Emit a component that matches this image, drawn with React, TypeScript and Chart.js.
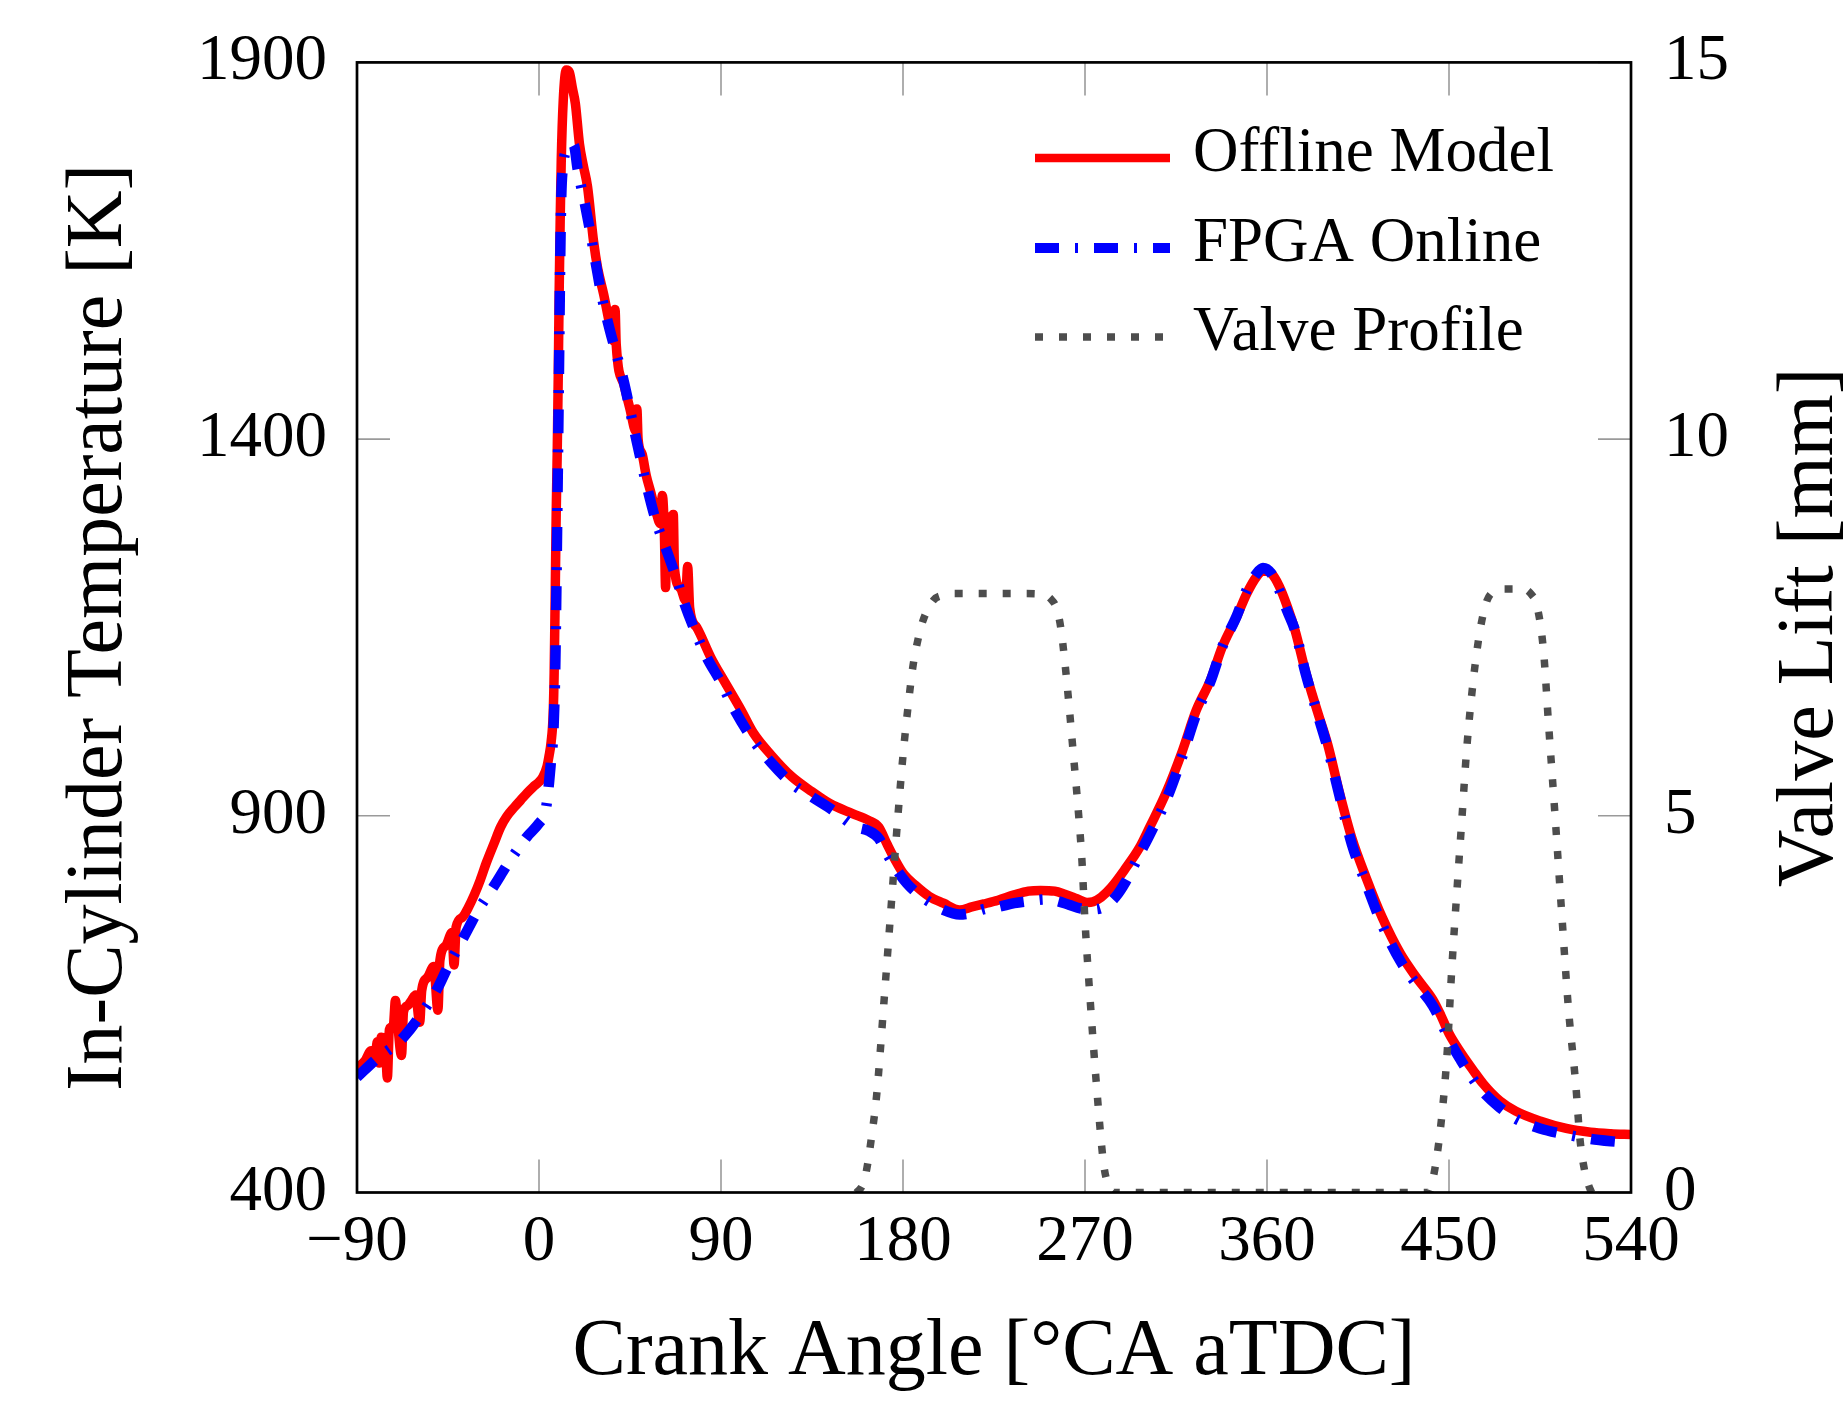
import React, { useEffect, useRef } from "react";
import { Chart, registerables } from "chart.js";

Chart.register(...registerables);

const W = 1847;
const H = 1401;
const FONT = "'Liberation Serif', 'Times New Roman', serif";

// ---- data: [crank angle (deg CA aTDC), value] ----
const offlineModel: [number, number][] = [
  [-90, 565], [-86, 575], [-83, 588], [-81, 578], [-80, 600], [-79, 572], [-78, 606], [-76, 600],
  [-75, 552], [-74, 616], [-72, 622], [-71, 655], [-70, 628], [-68, 582], [-67, 640], [-65, 648],
  [-63, 655], [-61, 662], [-59, 626], [-58, 668], [-55, 686], [-52, 700], [-50, 642], [-49, 708],
  [-46, 728], [-43, 745], [-42, 702], [-41, 752], [-38, 765], [-35, 778], [-32, 795], [-29, 815],
  [-26, 838], [-22, 865], [-19, 885], [-16, 899], [-12, 912], [-9, 921], [-6, 930], [-3, 938],
  [0, 945], [2, 952], [4, 966], [5, 980], [6, 998], [7, 1035], [7.5, 1090], [8, 1190], [8.5, 1300],
  [9, 1380], [9.5, 1480], [10, 1600], [10.5, 1695], [11, 1770], [12, 1850], [13.5, 1890], [15, 1887],
  [16.5, 1866], [18, 1845], [20, 1792], [22, 1762], [24, 1735], [27, 1662], [29, 1627], [32, 1592],
  [35, 1552], [37, 1530], [37.6, 1572], [38.2, 1525], [42, 1472], [45, 1440], [48, 1410], [48.4, 1440],
  [49, 1400], [51, 1380], [53, 1352], [55, 1332], [58, 1302], [60, 1288], [61, 1325], [62, 1275],
  [62.6, 1203], [63.2, 1297], [64, 1250], [66, 1235], [66.4, 1300], [67, 1228], [70, 1202],
  [72.5, 1186], [73.5, 1231], [74.5, 1176], [78, 1150], [85, 1110], [92, 1077], [100, 1040],
  [106, 1010], [115, 980], [125, 952], [135, 932], [144, 916], [155, 903], [163, 894], [168, 885],
  [172, 863], [176, 842], [180, 824], [186, 808], [193, 793], [200, 784], [208, 775], [214, 779],
  [220, 783], [227, 788], [235, 795], [242, 800], [248, 801], [255, 800], [260, 796], [266, 790],
  [271, 785], [274, 786], [278, 792], [283, 805], [290, 830], [297, 858], [302, 885], [310, 930],
  [318, 985], [325, 1040], [332, 1080], [338, 1125], [345, 1164], [350, 1195], [355, 1218],
  [358, 1225], [362, 1222], [366, 1205], [370, 1178], [374, 1145], [379, 1092], [385, 1038],
  [390, 995], [396, 929], [402, 870], [409, 818], [417, 765], [426, 717], [434, 685], [442, 656],
  [446, 635], [450, 611], [456, 585], [462, 562], [467, 544], [475, 522], [483, 508], [495, 495],
  [508, 485], [520, 480], [530, 478], [540, 477],
];

const fpgaOnline: [number, number][] = [
  [-90, 553], [-80, 578], [-70, 598], [-67, 606], [-60, 630], [-50, 672], [-45, 700], [-37, 740],
  [-30, 775], [-22, 808], [-15, 838], [-6, 872], [0, 890], [3, 904], [4, 920], [5, 945], [6, 975],
  [7, 1005], [7.5, 1040], [8, 1090], [8.5, 1180], [9, 1290], [9.5, 1400], [10, 1520], [10.5, 1640],
  [11, 1720], [12, 1765], [14, 1785], [16, 1792], [17.5, 1788], [19, 1760], [22.7, 1712], [25, 1680],
  [28.5, 1627], [31, 1590], [35, 1545], [41.7, 1479], [47.5, 1407], [54, 1330], [58, 1290],
  [63, 1253], [68, 1215], [72, 1181], [78, 1140], [83, 1110], [90, 1077], [96, 1044], [106, 1000],
  [115, 970], [125, 943], [135, 925], [145, 908], [157, 885], [163, 880], [168, 870], [172, 850],
  [177, 828], [182, 810], [188, 795], [194, 784], [200, 775], [208, 769], [214, 771], [220, 776],
  [227, 779], [235, 784], [243, 787], [250, 789], [256, 787], [262, 782], [268, 777], [275, 776],
  [280, 780], [285, 792], [290, 812], [297, 849], [302, 875], [310, 920], [318, 978], [325, 1035],
  [332, 1078], [338, 1125], [345, 1165], [350, 1200], [355, 1222], [358, 1229], [362, 1222],
  [366, 1200], [370, 1172], [374, 1145], [379, 1090], [385, 1035], [390, 990], [396, 925],
  [402, 862], [409, 810], [417, 755], [426, 707], [434, 676], [442, 648], [446, 627], [450, 603],
  [456, 575], [462, 550], [467, 533], [475, 513], [483, 498], [495, 485], [508, 477], [520, 471],
  [530, 468], [540, 466],
];

const valveProfile: [number, number][] = [
  [157, 0], [160, 0.1], [162, 0.3], [164.5, 0.75], [167, 1.3], [170.5, 2.5], [174, 3.75],
  [177.5, 5.0], [180, 5.8], [182.5, 6.45], [185, 7.0], [187.5, 7.35], [190, 7.6], [195, 7.86],
  [200, 7.93], [205, 7.95], [241, 7.95], [249, 7.94], [253, 7.88], [256, 7.75], [258, 7.5],
  [260, 7.05], [262.4, 6.38], [264.3, 5.8], [266.5, 5.13], [268.5, 4.4], [270, 3.6], [272.6, 2.54],
  [275.9, 1.35], [279.2, 0.38], [281.5, 0.1], [284, 0], [440, 0], [442.3, 0.21], [445.6, 0.81],
  [448.9, 1.78], [451.4, 2.98], [453.9, 4.0], [456.3, 4.93], [458.8, 5.9], [462.1, 6.82],
  [465.4, 7.47], [468.7, 7.85], [472, 7.98], [475, 8.01], [487, 8.01], [491, 7.93], [493.4, 7.8],
  [496.7, 7.2], [499.2, 6.23], [502.5, 4.98], [505.8, 3.68], [509.1, 2.43], [512.6, 1.46],
  [514.8, 0.7], [517, 0.3], [519, 0.1], [520.5, 0],
];

const xTicks = [-90, 0, 90, 180, 270, 360, 450, 540];
const tempTicks = [400, 900, 1400, 1900];
const liftTicks = [0, 5, 10, 15];
const seriesNames = ["Offline Model", "FPGA Online", "Valve Profile"];
const xTitle = "Crank Angle [\u00B0CA aTDC]";
const yTitle = "In-Cylinder Temperature [K]";
const y1Title = "Valve Lift [mm]";

const RED = "#ff0000";
const BLUE = "#0000ff";
const GRAY = "#4d4d4d";
const BLUE_DASH = [24, 16, 3, 16];
const GRAY_DASH = [8, 16];

const toPoints = (arr: [number, number][]) => arr.map(([x, y]) => ({ x, y }));
const fmtTick = (v: any) => {
  const n = Number(v);
  return n < 0 ? "\u2212" + String(Math.abs(n)) : String(n);
};
const zeroPad = (s: any) => {
  s.paddingTop = 0;
  s.paddingBottom = 0;
  s.paddingLeft = 0;
  s.paddingRight = 0;
};

const decor = {
  id: "decor",
  beforeDatasetsDraw(chart: any) {
    const { ctx, chartArea: a, scales } = chart;
    const L = 33;
    ctx.save();
    ctx.strokeStyle = "#9a9a9a";
    ctx.lineWidth = 1.6;
    const seg = (x1: number, y1: number, x2: number, y2: number) => {
      ctx.beginPath();
      ctx.moveTo(x1, y1);
      ctx.lineTo(x2, y2);
      ctx.stroke();
    };
    for (const v of xTicks) {
      const px = scales.x.getPixelForValue(v);
      seg(px, a.bottom, px, a.bottom - L);
      seg(px, a.top, px, a.top + L);
    }
    for (const v of tempTicks) {
      const py = scales.y.getPixelForValue(v);
      seg(a.left, py, a.left + L, py);
    }
    for (const v of liftTicks) {
      const py = scales.y1.getPixelForValue(v);
      seg(a.right, py, a.right - L, py);
    }
    ctx.restore();
  },
  afterDatasetsDraw(chart: any) {
    const { ctx, chartArea: a } = chart;
    ctx.save();
    // frame
    ctx.strokeStyle = "#000";
    ctx.lineWidth = 2.7;
    ctx.setLineDash([]);
    ctx.strokeRect(a.left, a.top, a.right - a.left, a.bottom - a.top);

    // legend
    const styles = [
      { color: RED, width: 8.5, dash: [] as number[] },
      { color: BLUE, width: 10, dash: BLUE_DASH },
      { color: GRAY, width: 7.5, dash: GRAY_DASH },
    ];
    const x0 = 1035;
    const x1 = 1170;
    const textX = 1193;
    const rowY = [158, 248, 337];
    seriesNames.forEach((name, i) => {
      const s = styles[i];
      ctx.beginPath();
      ctx.setLineDash(s.dash);
      ctx.lineDashOffset = 0;
      ctx.lineCap = "butt";
      ctx.strokeStyle = s.color;
      ctx.lineWidth = s.width;
      ctx.moveTo(x0, rowY[i]);
      ctx.lineTo(x1, rowY[i]);
      ctx.stroke();
      ctx.setLineDash([]);
      ctx.fillStyle = "#000";
      ctx.font = `63px ${FONT}`;
      ctx.textAlign = "left";
      ctx.textBaseline = "middle";
      ctx.fillText(name, textX, rowY[i] - 4);
    });
    ctx.restore();
  },
  afterDraw(chart: any) {
    const { ctx, chartArea: a } = chart;
    ctx.save();
    ctx.translate(1811, (a.top + a.bottom) / 2);
    ctx.rotate(-Math.PI / 2);
    ctx.fillStyle = "#000";
    ctx.font = `80px ${FONT}`;
    ctx.textAlign = "center";
    ctx.textBaseline = "middle";
    ctx.fillText(y1Title, 0, 0);
    ctx.restore();
  },
};

export default function App() {
  const ref = useRef<HTMLCanvasElement>(null);

  useEffect(() => {
    const canvas = ref.current;
    if (!canvas) return;
    const tickFont = { family: FONT, size: 65 };
    const titleFont = { family: FONT, size: 80 };
    const chart = new Chart(canvas, {
      type: "line",
      data: {
        datasets: [
          {
            label: seriesNames[0],
            data: toPoints(offlineModel),
            borderColor: RED,
            backgroundColor: RED,
            borderWidth: 9.5,
            borderJoinStyle: "round",
            borderCapStyle: "round",
            cubicInterpolationMode: "monotone",
            pointRadius: 0,
            fill: false,
            yAxisID: "y",
            order: 3,
          },
          {
            label: seriesNames[1],
            data: toPoints(fpgaOnline),
            borderColor: BLUE,
            backgroundColor: BLUE,
            borderWidth: 10.5,
            borderDash: BLUE_DASH,
            borderJoinStyle: "round",
            borderCapStyle: "butt",
            cubicInterpolationMode: "monotone",
            pointRadius: 0,
            fill: false,
            yAxisID: "y",
            order: 2,
          },
          {
            label: seriesNames[2],
            data: toPoints(valveProfile),
            borderColor: GRAY,
            backgroundColor: GRAY,
            borderWidth: 7.5,
            borderDash: GRAY_DASH,
            borderCapStyle: "butt",
            cubicInterpolationMode: "monotone",
            pointRadius: 0,
            fill: false,
            yAxisID: "y1",
            order: 1,
          },
        ],
      } as any,
      options: {
        animation: false,
        responsive: false,
        devicePixelRatio: 1,
        layout: { padding: { top: 62.4, left: 0, right: 0, bottom: 0 } },
        plugins: {
          legend: { display: false },
          tooltip: { enabled: false },
          title: { display: false },
        },
        elements: { point: { radius: 0 } },
        scales: {
          x: {
            type: "linear",
            position: "bottom",
            min: -90,
            max: 540,
            afterBuildTicks: (s: any) => {
              s.ticks = xTicks.map((v) => ({ value: v }));
            },
            afterFit: (s: any) => {
              s.height = 208.5;
              zeroPad(s);
            },
            ticks: {
              color: "#000",
              font: tickFont,
              padding: 11.5,
              maxRotation: 0,
              minRotation: 0,
              autoSkip: false,
              callback: fmtTick,
            },
            grid: { display: false, drawTicks: false, tickLength: 0 },
            border: { display: false },
            title: {
              display: true,
              text: xTitle,
              color: "#000",
              font: titleFont,
              padding: { top: 0, bottom: 0 },
            },
          },
          y: {
            type: "linear",
            position: "left",
            min: 400,
            max: 1900,
            afterBuildTicks: (s: any) => {
              s.ticks = tempTicks.map((v) => ({ value: v }));
            },
            afterFit: (s: any) => {
              s.width = 357;
              zeroPad(s);
            },
            ticks: { color: "#000", font: tickFont, padding: 30, callback: fmtTick },
            grid: { display: false, drawTicks: false, tickLength: 0 },
            border: { display: false },
            title: {
              display: true,
              text: yTitle,
              color: "#000",
              font: titleFont,
              padding: { top: 52, bottom: 0 },
            },
          },
          y1: {
            type: "linear",
            position: "right",
            min: 0,
            max: 15,
            afterBuildTicks: (s: any) => {
              s.ticks = liftTicks.map((v) => ({ value: v }));
            },
            afterFit: (s: any) => {
              s.width = 216;
              zeroPad(s);
            },
            ticks: { color: "#000", font: tickFont, padding: 33, callback: fmtTick },
            grid: { display: false, drawTicks: false, tickLength: 0 },
            border: { display: false },
            title: { display: false },
          },
        },
      } as any,
      plugins: [decor],
    });
    return () => chart.destroy();
  }, []);

  return (
    <div style={{ position: "fixed", left: 0, top: 0, width: W, height: H, background: "#fff" }}>
      <canvas ref={ref} width={W} height={H} style={{ display: "block", width: W, height: H }} />
    </div>
  );
}
